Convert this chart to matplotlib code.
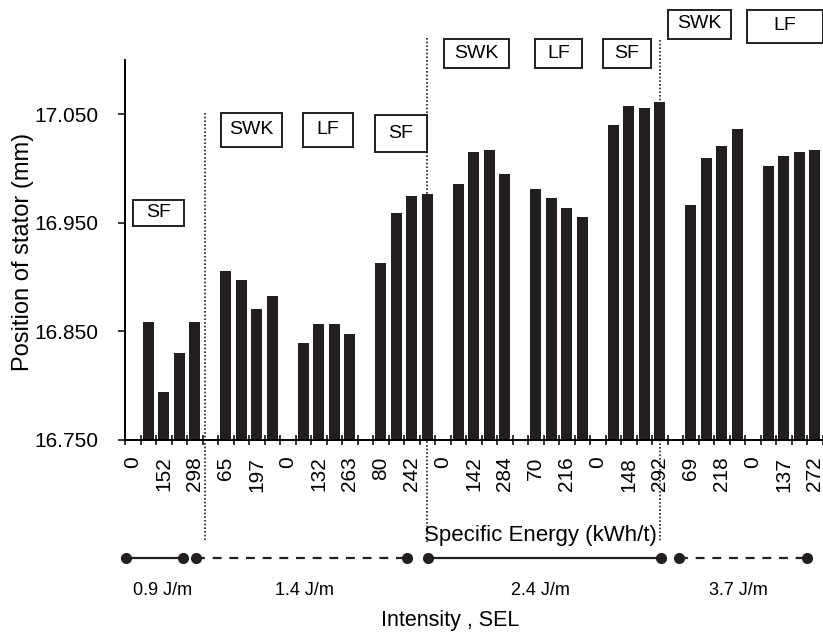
import numpy as np
import matplotlib.pyplot as plt
from matplotlib.patches import Rectangle
from matplotlib.ticker import FormatStrFormatter
from matplotlib.transforms import blended_transform_factory

plt.rcParams['font.family'] = ['Liberation Sans', 'DejaVu Sans']

nan = np.nan
# one slot per energy step, empty slot between refining runs
stator = [nan, 16.859, 16.794, 16.830, 16.859,
          nan, 16.906, 16.897, 16.871, 16.883,
          nan, 16.839, 16.857, 16.857, 16.848,
          nan, 16.913, 16.959, 16.975, 16.977,
          nan, 16.986, 17.015, 17.017, 16.995,
          nan, 16.981, 16.973, 16.964, 16.955,
          nan, 17.040, 17.058, 17.056, 17.061,
          nan, 16.966, 17.010, 17.021, 17.036,
          nan, 17.002, 17.012, 17.015, 17.017]
# labels shown on every second slot
energy_labels = ['0', '152', '298', '65', '197', '0', '132', '263', '80', '242', '0', '142',
                 '284', '70', '216', '0', '148', '292', '69', '218', '0', '137', '272']
process_labels = ['SF', 'SWK', 'LF', 'SF', 'SWK', 'LF', 'SF', 'SWK', 'LF']
intensity_labels = ['0.9 J/m', '1.4 J/m', '2.4 J/m', '3.7 J/m']
y_ticks = [16.75, 16.85, 16.95, 17.05]

fig = plt.figure(figsize=(8.23, 6.33), dpi=100)
ax = fig.add_axes([125/823, 1 - 440/633, 697.5/823, 380/633])

x = np.arange(len(stator))
ax.bar(x, stator, width=0.68, color='#231f20')

ax.set_xlim(-0.5, len(stator) - 0.5)
ax.set_ylim(16.75, 17.10)
ax.set_yticks(y_ticks)
ax.yaxis.set_major_formatter(FormatStrFormatter('%.3f'))

ax.set_xticks(np.arange(-0.5, len(stator), 1))
ax.set_xticklabels([])
ax.set_xticks(np.arange(0, len(stator), 2), minor=True)
ax.set_xticklabels(energy_labels, minor=True, rotation=90)
ax.tick_params(axis='x', which='major', direction='inout', length=7, width=1.1)
ax.tick_params(axis='x', which='minor', length=0, pad=12, labelsize=15)
ax.tick_params(axis='y', direction='out', length=5, width=1.1, pad=14, labelsize=15)

for s in ['top', 'right']:
    ax.spines[s].set_visible(False)
for s in ['left', 'bottom']:
    ax.spines[s].set_linewidth(1.4)

ax.set_ylabel('Position of stator (mm)', fontsize=17)
ax.yaxis.set_label_coords(-0.146, 0.495)
ax.yaxis.label.set_verticalalignment('center')

# process boxes: (x0, x1, ytop, ybottom)
boxes = [(0.0, 3.31, 16.9708, 16.9469),
         (5.69, 9.63, 17.0508, 17.0195),
         (10.98, 14.21, 17.0508, 17.0195),
         (15.63, 18.98, 17.049, 17.015),
         (20.08, 24.27, 17.1189, 17.0922),
         (25.95, 28.98, 17.1189, 17.0922),
         (30.34, 33.44, 17.1189, 17.0922),
         (34.53, 38.6, 17.1465, 17.1189),
         (39.63, 44.5, 17.1465, 17.116)]
for lab, (x0, x1, yt, yb) in zip(process_labels, boxes):
    ax.add_patch(Rectangle((x0, yb), x1 - x0, yt - yb, fill=False, lw=1.4,
                           ec='#231f20', clip_on=False))
    ax.text((x0 + x1) / 2, (yt + yb) / 2 + 0.0025, lab, ha='center', va='center_baseline',
            fontsize=14, clip_on=False)

trans = blended_transform_factory(ax.transData, ax.transAxes)

# dotted separators between intensity levels
for xs, ytop in [(4.66, 0.8605), (19.0, 1.058), (34.0, 1.0526)]:
    ax.plot([xs, xs], [ytop, -0.268], transform=trans, clip_on=False,
            ls=(0, (1, 1.2)), lw=1.2, color='#231f20')

ax.text(26.3, -0.25, 'Specific Energy (kWh/t)', transform=trans, ha='center',
        va='center', fontsize=16)

segments = [(-0.44, 3.24, '-'), (4.08, 17.7, (0, (4, 3.5))),
            (19.05, 34.08, '-'), (35.24, 43.5, (0, (4, 3.5)))]
label_x = [1.95, 11.1, 26.3, 39.05]
for (x0, x1, ls), lab, lx in zip(segments, intensity_labels, label_x):
    ax.plot([x0, x1], [-0.3105, -0.3105], transform=trans, clip_on=False,
            ls=ls, lw=1.6, color='#231f20', marker='o', ms=7)
    ax.text(lx, -0.395, lab, transform=trans, ha='center', va='center', fontsize=13)

ax.text(20.5, -0.474, 'Intensity , SEL', transform=trans, ha='center', va='center',
        fontsize=15.5)

fig.savefig('out.png', dpi=100)
